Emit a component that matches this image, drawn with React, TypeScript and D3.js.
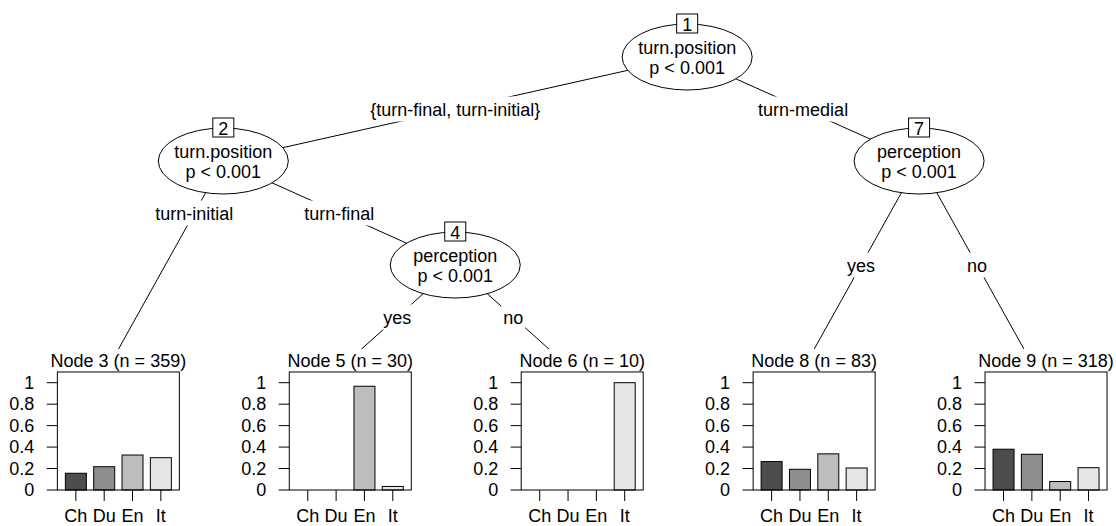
import React from "react";
import * as d3 from "d3";

// ---------- data ----------
const classes = ["Ch", "Du", "En", "It"];
const classColors = ["#4D4D4D", "#8E8E8E", "#BDBDBD", "#E6E6E6"];
const yTicks = [0, 0.2, 0.4, 0.6, 0.8, 1];
const yTickLabels = ["0", "0.2", "0.4", "0.6", "0.8", "1"];

const innerIds = [1, 2, 4, 7];
const innerVars = ["turn.position", "turn.position", "perception", "perception"];
const innerPvals = ["p < 0.001", "p < 0.001", "p < 0.001", "p < 0.001"];
const innerKids = [[2, 7], [3, 4], [5, 6], [8, 9]];
const innerEdgeLabels = [
  ["{turn-final, turn-initial}", "turn-medial"],
  ["turn-initial", "turn-final"],
  ["yes", "no"],
  ["yes", "no"],
];

const terminalIds = [3, 5, 6, 8, 9];
const terminalN = [359, 30, 10, 83, 318];
const node3Props = [0.156, 0.217, 0.326, 0.301];
const node5Props = [0, 0, 0.967, 0.033];
const node6Props = [0, 0, 0, 1];
const node8Props = [0.265, 0.193, 0.337, 0.205];
const node9Props = [0.38, 0.333, 0.079, 0.208];
const terminalProps = [node3Props, node5Props, node6Props, node8Props, node9Props];

// ---------- layout constants ----------
const W = 1116;
const H = 526;
const FONT = "'Liberation Sans', Arial, Helvetica, sans-serif";
const FS = 18;

function measure(text: string): number {
  try {
    const c = document.createElement("canvas");
    const ctx = c.getContext("2d");
    if (ctx) {
      ctx.font = `${FS}px 'Liberation Sans', Arial`;
      return ctx.measureText(text).width;
    }
  } catch (e) {}
  return text.length * FS * 0.5;
}

function isTerminal(id: number) {
  return terminalIds.indexOf(id) >= 0;
}
function kidsOf(id: number): number[] {
  const i = innerIds.indexOf(id);
  return i >= 0 ? innerKids[i] : [];
}
function widthOf(id: number): number {
  if (isTerminal(id)) return 1;
  return kidsOf(id).reduce((s, k) => s + widthOf(k), 0);
}

function computeLayout() {
  const depth = new Map<number, number>();
  const setDepth = (id: number, d: number) => {
    depth.set(id, d);
    kidsOf(id).forEach((k) => setDepth(k, d + 1));
  };
  setDepth(1, 1);
  const maxInner = d3.max(innerIds, (id) => depth.get(id)!) as number;
  const pos = new Map<number, { u: number; d: number }>();
  const place = (id: number, start: number) => {
    if (isTerminal(id)) {
      pos.set(id, { u: start + 0.5, d: maxInner + 1 });
      return;
    }
    const ks = kidsOf(id);
    pos.set(id, { u: start + widthOf(ks[0]), d: depth.get(id)! });
    let s = start;
    ks.forEach((k) => {
      place(k, s);
      s += widthOf(k);
    });
  };
  place(1, 0);
  return { pos, maxInner };
}

export default function App() {
  const { pos, maxInner } = computeLayout();
  const nTerm = terminalIds.length;
  const xScale = d3.scaleLinear().domain([0, nTerm]).range([-8.6, 1151]);
  const yScale = d3.scaleLinear().domain([1, maxInner + 1]).range([57, 369]);
  const X = (id: number) => xScale(pos.get(id)!.u);
  const Y = (id: number) => yScale(pos.get(id)!.d);

  const yBar = d3.scaleLinear().domain([0, 1]).range([490, 382.7]);

  const edges: React.ReactNode[] = [];
  const labels: React.ReactNode[] = [];
  innerIds.forEach((id, i) => {
    const x0 = X(id);
    const y0 = Y(id);
    const ks = innerKids[i];
    const minY1 = d3.min(ks, (k) => Y(k)) as number;
    const ly = (y0 + minY1) / 2;
    ks.forEach((k, j) => {
      const x1 = X(k);
      const y1 = Y(k);
      edges.push(
        <line key={`e${id}-${k}`} x1={x0} y1={y0} x2={x1} y2={y1} stroke="#000" strokeWidth={1} />
      );
      const lx = x0 + ((x1 - x0) * (ly - y0)) / (y1 - y0);
      const txt = innerEdgeLabels[i][j];
      const tw = measure(txt);
      labels.push(
        <g key={`l${id}-${k}`}>
          <rect x={lx - tw / 2 - 2} y={ly - 12.5} width={tw + 4} height={25} fill="#fff" />
          <text x={lx} y={ly + 6.5} textAnchor="middle" fontSize={FS} fontFamily={FONT} fill="#000">
            {txt}
          </text>
        </g>
      );
    });
  });

  const innerNodes = innerIds.map((id, i) => {
    const cx = X(id);
    const cy = Y(id);
    return (
      <g key={`n${id}`}>
        <ellipse cx={cx} cy={cy} rx={65} ry={33} fill="#fff" stroke="#000" strokeWidth={1} />
        <text x={cx} y={cy - 3} textAnchor="middle" fontSize={FS} fontFamily={FONT}>
          {innerVars[i]}
        </text>
        <text x={cx} y={cy + 17} textAnchor="middle" fontSize={FS} fontFamily={FONT}>
          {innerPvals[i]}
        </text>
        <rect x={cx - 10.5} y={cy - 43} width={21} height={19} fill="#fff" stroke="#000" strokeWidth={1} />
        <text x={cx} y={cy - 26.3} textAnchor="middle" fontSize={FS} fontFamily={FONT}>
          {String(id)}
        </text>
      </g>
    );
  });

  const panels = terminalIds.map((id, i) => {
    const c = X(id);
    const bx0 = c - 50;
    const bx1 = c + 72;
    const top = yBar(1.1);
    const xb = d3
      .scaleBand<string>()
      .domain(classes)
      .range([bx0, bx1])
      .paddingInner(0.259)
      .paddingOuter(0.2825);
    const vals = terminalProps[i];
    return (
      <g key={`t${id}`}>
        <rect x={c - 115} y={349} width={230} height={H - 349} fill="#fff" />
        <text x={c + 11} y={367} textAnchor="middle" fontSize={FS} fontFamily={FONT}>
          {`Node ${id} (n = ${terminalN[i]})`}
        </text>
        {vals.map((v, j) =>
          v > 0 ? (
            <rect
              key={`b${j}`}
              x={xb(classes[j])!}
              y={yBar(v)}
              width={xb.bandwidth()}
              height={yBar(0) - yBar(v)}
              fill={classColors[j]}
              stroke="#000"
              strokeWidth={1}
            />
          ) : null
        )}
        <rect x={bx0} y={top} width={bx1 - bx0} height={yBar(0) - top} fill="none" stroke="#000" strokeWidth={1} />
        {yTicks.map((t, j) => (
          <g key={`yt${j}`}>
            <line x1={bx0 - 10.6} x2={bx0} y1={yBar(t)} y2={yBar(t)} stroke="#000" strokeWidth={1} />
            <text x={bx0 - 23} y={yBar(t)} dy="0.35em" textAnchor="end" fontSize={FS} fontFamily={FONT}>
              {yTickLabels[j]}
            </text>
          </g>
        ))}
        {classes.map((cl, j) => {
          const xc = xb(cl)! + xb.bandwidth() / 2;
          return (
            <g key={`xt${j}`}>
              <line x1={xc} x2={xc} y1={yBar(0)} y2={yBar(0) + 11} stroke="#000" strokeWidth={1} />
              <text x={xc} y={522} textAnchor="middle" fontSize={FS} fontFamily={FONT}>
                {cl}
              </text>
            </g>
          );
        })}
      </g>
    );
  });

  return (
    <svg
      width={W}
      height={H}
      viewBox={`0 0 ${W} ${H}`}
      style={{ position: "absolute", left: 0, top: 0, background: "#fff" }}
    >
      <rect x={0} y={0} width={W} height={H} fill="#fff" />
      {edges}
      {labels}
      {innerNodes}
      {panels}
    </svg>
  );
}
